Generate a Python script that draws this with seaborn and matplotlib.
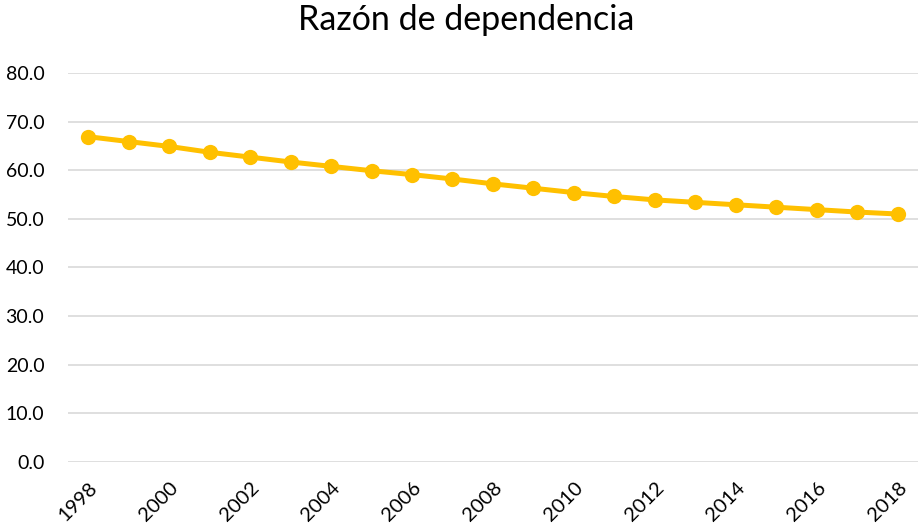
"""
Dependency ratio line chart, 1998-2018.
"""

import matplotlib
matplotlib.use("Agg")
import matplotlib.pyplot as plt
import seaborn as sns
import pandas as pd

years = list(range(1998, 2019))
ratio = [66.9, 65.9, 64.9, 63.7, 62.7, 61.7, 60.8, 59.9, 59.1, 58.2, 57.2,
         56.3, 55.4, 54.6, 53.9, 53.4, 52.9, 52.4, 51.9, 51.4, 51.0]
y_ticks = [0, 10, 20, 30, 40, 50, 60, 70, 80]

sns.set_theme(style="white")
plt.rcParams["font.family"] = ["Lato", "DejaVu Sans"]

df = pd.DataFrame({"pos": range(len(years)), "year": years, "ratio": ratio})

fig = plt.figure(figsize=(9.18, 5.32), dpi=100)
ax = fig.add_axes([0.074, 0.1316, 0.926, 0.7312])

sns.lineplot(data=df, x="pos", y="ratio", color="#FFC000", linewidth=3.6,
             marker="o", markersize=11, markeredgewidth=0, ax=ax)

ax.set_xlim(-0.5, len(years) - 0.5)
ax.set_ylim(0, 80)
ax.set_yticks(y_ticks)
ax.set_yticklabels([f"{v:.1f}" for v in y_ticks], fontsize=14, color="#000000")
ax.set_xticks(df["pos"][::2])
ax.set_xticklabels(df["year"][::2], rotation=45, ha="right", rotation_mode="anchor",
                   fontsize=14.5, color="#000000")
ax.tick_params(axis="y", length=0, pad=17)
ax.tick_params(axis="x", length=0, pad=12)
ax.yaxis.grid(True, color="#d9d9d9", linewidth=1.2)
ax.set_axisbelow(True)
for s in ax.spines.values():
    s.set_visible(False)
ax.set_xlabel("")
ax.set_ylabel("")

fig.text(0.508, 0.963, "Razón de dependencia", ha="center", va="center",
         fontsize=24.5, color="#000000")

fig.savefig("out.png", dpi=100)
